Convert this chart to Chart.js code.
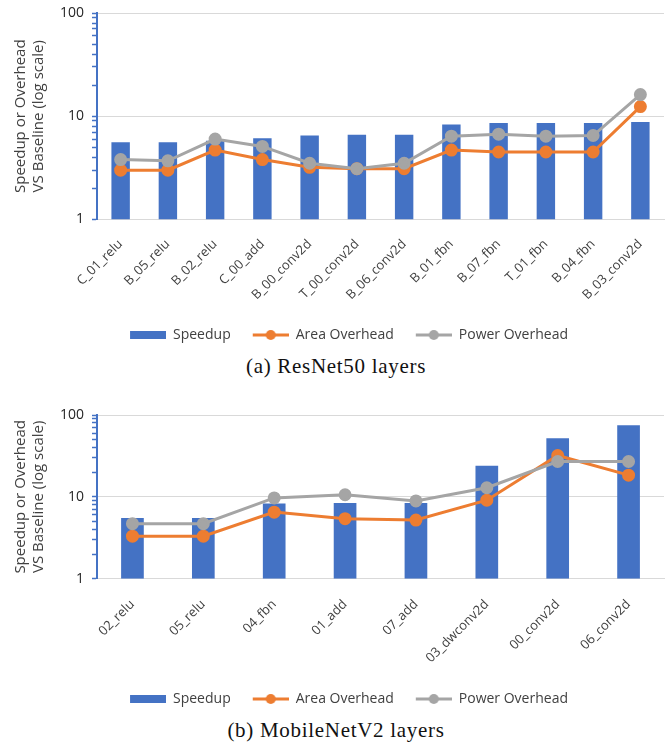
<!DOCTYPE html>
<html>
<head>
<meta charset="utf-8">
<script src="https://cdn.jsdelivr.net/npm/chart.js@4.4.0/dist/chart.umd.min.js"></script>
<style>
  body { margin: 0; background: #fff; width: 672px; height: 746px; position: relative; overflow: hidden; }
  canvas { position: absolute; left: 0; }
  .caption { position: absolute; left: 0; width: 672px; text-align: center; letter-spacing: 0.7px;
             font-family: "Liberation Serif", serif; font-size: 21px; color: #111; }
</style>
</head>
<body>
<canvas id="resnet" width="672" height="354" style="top:-2px"></canvas>
<div class="caption" style="top:354px">(a) ResNet50 layers</div>
<canvas id="mobilenet" width="672" height="335" style="top:381px"></canvas>
<div class="caption" style="top:718px">(b) MobileNetV2 layers</div>

<script>
// ResNet50 layers
var resnetLabels = ["C_01_relu","B_05_relu","B_02_relu","C_00_add","B_00_conv2d","T_00_conv2d","B_06_conv2d","B_01_fbn","B_07_fbn","T_01_fbn","B_04_fbn","B_03_conv2d"];
var resnetSpeedup = [5.6, 5.6, 5.8, 6.1, 6.5, 6.6, 6.6, 8.3, 8.6, 8.6, 8.6, 8.8];
var resnetArea    = [3.0, 3.0, 4.7, 3.8, 3.2, 3.1, 3.1, 4.7, 4.5, 4.5, 4.5, 12.4];
var resnetPower   = [3.8, 3.7, 6.0, 5.1, 3.5, 3.1, 3.5, 6.4, 6.7, 6.4, 6.5, 16.2];

// MobileNetV2 layers
var mobileLabels = ["02_relu","05_relu","04_fbn","01_add","07_add","03_dwconv2d","00_conv2d","06_conv2d"];
var mobileSpeedup = [5.5, 5.5, 8.3, 8.4, 8.4, 24, 52, 75];
var mobileArea    = [3.3, 3.3, 6.5, 5.4, 5.2, 9.1, 32, 18.4];
var mobilePower   = [4.7, 4.7, 9.7, 10.6, 8.9, 12.9, 27, 27];

var seriesNames = ["Speedup", "Area Overhead", "Power Overhead"];
var blue = "#4472C4", orange = "#ED7D31", grey = "#A5A5A5";

var font = "'Open Sans', 'DejaVu Sans', sans-serif";

// legend swatches (bar box / line with dot); blank on the left gives the gap between items
var LEAD = 14, SW = 36;
function swatch(color, isLine) {
  var c = document.createElement("canvas");
  c.width = LEAD + SW; c.height = 12;
  var g = c.getContext("2d");
  g.fillStyle = color;
  g.strokeStyle = color;
  if (isLine) {
    g.lineWidth = 3;
    g.beginPath(); g.moveTo(LEAD, 6); g.lineTo(LEAD + SW, 6); g.stroke();
    g.beginPath(); g.arc(LEAD + SW / 2, 6, 5, 0, Math.PI * 2); g.fill();
  } else {
    g.fillRect(LEAD, 2, SW, 8);
  }
  return c;
}
var swatches = [swatch(blue, false), swatch(orange, true), swatch(grey, true)];

function isMajor(v) {
  var l = Math.log10(v);
  return Math.abs(l - Math.round(l)) < 1e-9;
}

function makeChart(id, labels, speedup, area, power, barPct, topPad, labelPad) {
  var ctx = document.getElementById(id).getContext("2d");
  return new Chart(ctx, {
    type: "bar",
    data: {
      labels: labels,
      datasets: [
        { type: "bar", label: seriesNames[0], data: speedup, backgroundColor: blue,
          barPercentage: barPct, categoryPercentage: 1, order: 3 },
        { type: "line", label: seriesNames[1], data: area, borderColor: orange, backgroundColor: orange,
          borderWidth: 3, pointRadius: 5, pointHoverRadius: 5, order: 2 },
        { type: "line", label: seriesNames[2], data: power, borderColor: grey, backgroundColor: grey,
          borderWidth: 3, pointRadius: 5, pointHoverRadius: 5, order: 1 }
      ]
    },
    options: {
      responsive: false,
      animation: false,
      layout: { padding: { top: topPad, left: 12, right: 0, bottom: 0 } },
      plugins: {
        tooltip: { enabled: false },
        legend: {
          position: "bottom",
          labels: {
            font: { family: font, size: 14 },
            color: "#404040",
            usePointStyle: true,
            pointStyleWidth: LEAD + SW,
            padding: 8,
            sort: function(a, b) { return a.datasetIndex - b.datasetIndex; },
            generateLabels: function(chart) {
              var items = Chart.defaults.plugins.legend.labels.generateLabels(chart);
              items.forEach(function(it) { it.pointStyle = swatches[it.datasetIndex]; });
              return items;
            }
          }
        }
      },
      scales: {
        x: {
          grid: { drawOnChartArea: false, drawTicks: false },
          border: { color: "#D9D9D9", width: 1 },
          ticks: { font: { family: font, size: 13 }, color: "#404040",
                   minRotation: 45, maxRotation: 45, padding: labelPad, autoSkip: false }
        },
        y: {
          type: "logarithmic",
          min: 1, max: 100,
          afterBuildTicks: function(scale) {
            scale.ticks = scale.ticks.filter(function(t) { return t.value !== 15 && t.value !== 150; });
          },
          border: { color: blue, width: 2 },
          grid: {
            color: function(c) { return c.tick && isMajor(c.tick.value) ? "#D9D9D9" : "rgba(0,0,0,0)"; },
            tickColor: blue,
            tickWidth: 1.5,
            tickLength: 5
          },
          ticks: {
            autoSkip: false,
            font: { family: font, size: 14, lineHeight: 1 },
            color: "#262626",
            padding: 8,
            callback: function(v) { return isMajor(v) ? String(v) : ""; }
          },
          title: {
            display: true,
            text: ["Speedup or Overhead", "VS Baseline (log scale)"],
            font: { family: font, size: 15 },
            color: "#404040",
            padding: { top: 0, bottom: 4 }
          }
        }
      }
    }
  });
}

makeChart("resnet", resnetLabels, resnetSpeedup, resnetArea, resnetPower, 0.39, 13, 17);
makeChart("mobilenet", mobileLabels, mobileSpeedup, mobileArea, mobilePower, 0.32, 34, 18);
</script>
</body>
</html>
